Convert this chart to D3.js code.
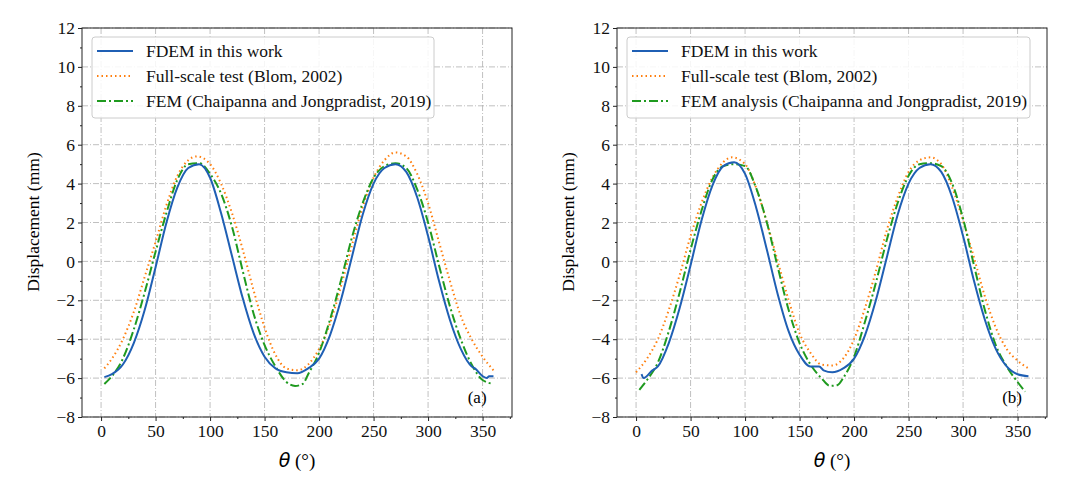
<!DOCTYPE html>
<html><head><meta charset="utf-8">
<script src="https://cdn.jsdelivr.net/npm/d3@7"></script>
<style>body{margin:0;background:#fff}svg text{font-family:"Liberation Serif","Times New Roman",serif}</style>
</head><body><svg id="c" width="1080" height="482"></svg>
<script>
const xTicks=[0,50,100,150,200,250,300,350];
const yTicks=[-8,-6,-4,-2,0,2,4,6,8,10,12];
// Panel (a)
const aFdemX=[3,10,20,30,40,50,60,70,80,90,100,110,120,130,140,150,160,170,180,190,200,210,220,230,240,250,260,270,280,290,300,310,320,330,340,343,350,354,356,360];
const aFdemY=[-5.95,-5.8,-5.3,-4.2,-2.5,-0.3,2.0,3.8,4.8,5.0,4.3,2.5,0.3,-1.9,-3.7,-4.9,-5.5,-5.7,-5.75,-5.5,-5.0,-3.8,-2.0,0.2,2.4,4.0,4.8,5.0,4.6,3.3,1.3,-1.0,-3.0,-4.5,-5.4,-5.5,-5.9,-6.0,-5.9,-5.9];
const aTestX=[3,10,20,30,40,50,60,70,80,88,100,110,120,130,140,150,160,170,180,190,200,210,220,230,240,250,260,270,280,290,300,310,320,330,340,350,360];
const aTestY=[-5.5,-5.0,-4.0,-2.6,-0.8,1.0,2.9,4.4,5.2,5.4,5.0,4.0,2.5,0.6,-1.5,-3.4,-4.8,-5.5,-5.6,-5.3,-4.5,-3.2,-1.3,0.8,2.8,4.3,5.2,5.6,5.4,4.5,3.0,1.0,-1.0,-2.8,-4.0,-4.9,-5.6];
const aFemX=[3,10,20,30,40,50,60,70,80,90,100,110,120,130,140,150,160,170,178,185,190,200,210,220,230,240,250,260,270,280,290,300,310,320,330,340,350,360];
const aFemY=[-6.3,-5.9,-5.0,-3.5,-1.6,0.5,2.5,4.2,5.0,5.05,4.5,3.5,1.8,-0.5,-2.7,-4.3,-5.4,-6.2,-6.4,-6.3,-5.8,-4.7,-3.0,-1.0,1.2,3.0,4.3,4.9,5.05,4.8,3.7,2.0,-0.2,-2.3,-4.0,-5.3,-6.1,-6.3];
// Panel (b)
const bFdemX=[5,7,15,20,30,40,50,60,70,80,90,100,110,120,130,140,150,160,168,172,180,190,200,210,220,230,240,250,260,270,280,290,300,310,320,330,340,350,360];
const bFdemY=[-5.8,-6.0,-5.6,-5.4,-4.2,-2.4,-0.2,2.1,3.9,4.9,5.1,4.5,2.8,0.6,-1.7,-3.6,-4.8,-5.4,-5.4,-5.6,-5.7,-5.5,-5.0,-3.8,-2.0,0.2,2.4,4.0,4.8,5.0,4.6,3.3,1.3,-1.0,-3.0,-4.5,-5.4,-5.8,-5.9];
const bTestX=[0,10,20,30,40,50,60,70,80,88,100,110,120,130,140,150,160,170,180,190,200,210,220,230,240,250,260,270,280,290,300,310,320,330,340,350,360];
const bTestY=[-5.7,-5.0,-4.0,-2.5,-0.7,1.3,3.0,4.3,5.1,5.35,5.0,3.8,2.0,0.0,-2.0,-3.7,-4.7,-5.3,-5.35,-5.0,-4.0,-2.4,-0.5,1.6,3.3,4.6,5.2,5.35,5.0,3.8,2.1,0.2,-1.8,-3.4,-4.5,-5.1,-5.5];
const bFemX=[3,10,20,30,40,50,60,70,80,90,100,110,120,130,140,150,160,170,178,185,190,200,210,220,230,240,250,260,270,280,290,300,310,320,330,340,350,357];
const bFemY=[-6.6,-6.1,-5.2,-3.6,-1.6,0.6,2.6,4.2,4.9,5.0,4.9,3.8,2.0,-0.3,-2.5,-4.2,-5.3,-6.0,-6.4,-6.35,-6.0,-4.9,-3.1,-1.1,1.1,3.0,4.4,5.0,5.05,4.9,4.0,2.2,-0.2,-2.5,-4.3,-5.4,-6.2,-6.7];

const svg=d3.select("#c");
const SERIF='"Liberation Serif","Times New Roman",serif';
function panel(x0,x1,femLabel,tag,d){
  const x=d3.scaleLinear().domain([-17.5,377]).range([x0,x1]);
  const y=d3.scaleLinear().domain([-8,12]).range([417,28]);
  const g=svg.append("g");
  xTicks.forEach(t=>g.append("line").attr("x1",x(t)).attr("x2",x(t)).attr("y1",28).attr("y2",417).attr("stroke","#b0b0b0").attr("stroke-width",0.8).attr("stroke-dasharray","6,2,1,2"));
  yTicks.forEach(t=>g.append("line").attr("x1",x0).attr("x2",x1).attr("y1",y(t)).attr("y2",y(t)).attr("stroke","#b0b0b0").attr("stroke-width",0.8).attr("stroke-dasharray","6,2,1,2"));
  g.append("g").attr("transform","translate(0,417)").call(d3.axisBottom(x).tickValues(xTicks).tickSize(4).tickPadding(4).tickFormat(d3.format("d")));
  g.append("g").attr("transform","translate(0,417)").call(d3.axisBottom(x).tickValues(d3.range(25,376,50)).tickSize(2).tickFormat(""));
  g.append("g").attr("transform",`translate(${x0},0)`).call(d3.axisLeft(y).tickValues(yTicks).tickSize(4).tickPadding(3).tickFormat(v=>v<0?"\u2212"+Math.abs(v):v));
  g.append("g").attr("transform",`translate(${x0},0)`).call(d3.axisLeft(y).tickValues(d3.range(-7,12,2)).tickSize(2).tickFormat(""));
  g.selectAll(".domain").remove();
  g.selectAll(".tick text").style("font-size","17.5px").style("font-family",SERIF).attr("fill","#111");
  g.selectAll(".tick line").attr("stroke","#222");
  const line=d3.line().x(p=>x(p[0])).y(p=>y(p[1])).curve(d3.curveMonotoneX);
  const series=[
    {xs:d.testX,ys:d.testY,c:"#ff7f0e",da:"1.5,3",lab:"Full-scale test (Blom, 2002)"},
    {xs:d.femX,ys:d.femY,c:"#1f9a1f",da:"9,3,2,3",lab:femLabel},
    {xs:d.fdemX,ys:d.fdemY,c:"#1f5fb4",da:null,lab:"FDEM in this work"}];
  series.forEach(s=>{
    g.append("path").attr("d",line(s.xs.map((v,i)=>[v,s.ys[i]]))).attr("fill","none").attr("stroke",s.c).attr("stroke-width",2).attr("stroke-dasharray",s.da);
  });
  g.append("rect").attr("x",x0).attr("y",28).attr("width",x1-x0).attr("height",389).attr("fill","none").attr("stroke","#222").attr("stroke-width",1);
  const lw=femLabel.length>40?403:342;
  g.append("rect").attr("x",x0+10).attr("y",37).attr("width",lw).attr("height",81).attr("rx",3).attr("fill","#fff").attr("fill-opacity",0.85).attr("stroke","#ccc");
  [series[2],series[0],series[1]].forEach((s,i)=>{
    const yy=51+i*25;
    g.append("line").attr("x1",x0+15).attr("x2",x0+51).attr("y1",yy).attr("y2",yy).attr("stroke",s.c).attr("stroke-width",2).attr("stroke-dasharray",s.da);
    g.append("text").attr("x",x0+64).attr("y",yy+6).style("font-size","17.5px").attr("fill","#111").text(s.lab);
  });
  g.append("text").attr("x",x(345)).attr("y",403).attr("text-anchor","middle").style("font-size","17px").text(tag);
  g.append("text").attr("transform",`translate(${x0-43},222) rotate(-90)`).attr("text-anchor","middle").style("font-size","17.5px").text("Displacement (mm)");
  const t=g.append("text").attr("x",(x0+x1)/2).attr("y",467).attr("text-anchor","middle").style("font-size","19px");
  t.append("tspan").style("font-family","DejaVu Sans").style("font-style","italic").text("θ");
  t.append("tspan").text(" (°)");
}
panel(82,512,"FEM (Chaipanna and Jongpradist, 2019)","(a)",{fdemX:aFdemX,fdemY:aFdemY,testX:aTestX,testY:aTestY,femX:aFemX,femY:aFemY});
panel(617,1047,"FEM analysis (Chaipanna and Jongpradist, 2019)","(b)",{fdemX:bFdemX,fdemY:bFdemY,testX:bTestX,testY:bTestY,femX:bFemX,femY:bFemY});
</script></body></html>
